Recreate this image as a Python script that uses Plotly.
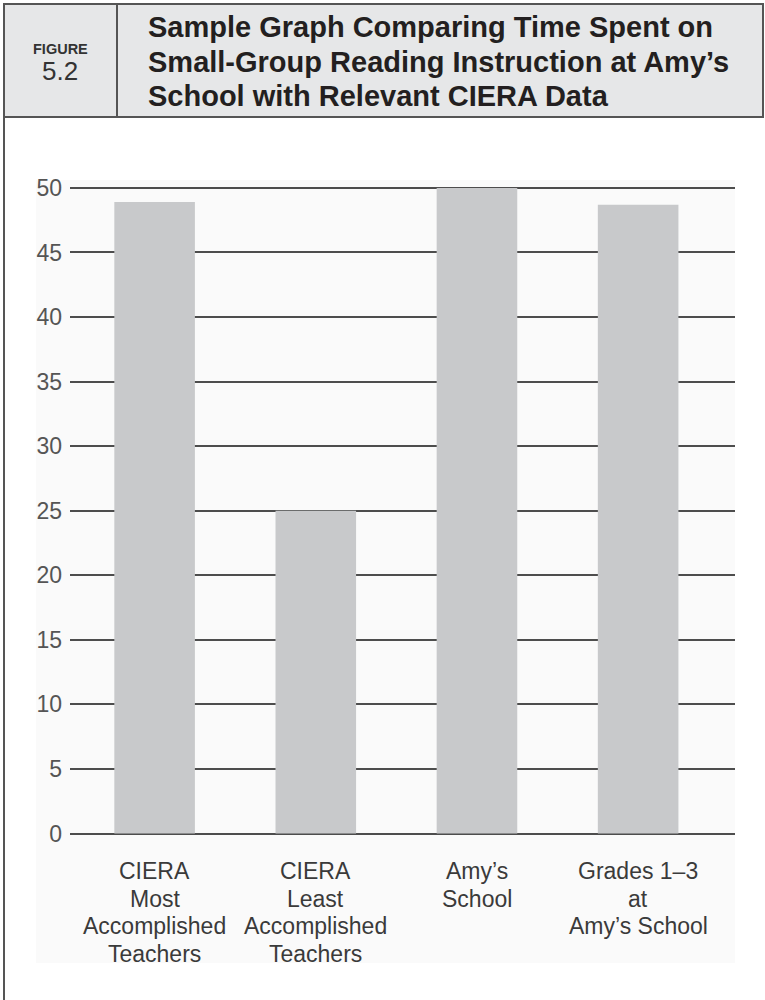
import plotly.graph_objects as go

categories = [
    "CIERA<br>Most<br>Accomplished<br>Teachers",
    "CIERA<br>Least<br>Accomplished<br>Teachers",
    "Amy’s<br>School",
    "Grades 1–3<br>at<br>Amy’s School",
]
minutes = [48.9, 25.0, 50.0, 48.7]
y_ticks = [0, 5, 10, 15, 20, 25, 30, 35, 40, 45, 50]
title_lines = [
    "Sample Graph Comparing Time Spent on",
    "Small-Group Reading Instruction at Amy’s",
    "School with Relevant CIERA Data",
]

W, H = 765, 1000
ML, MR, MT, MB = 70, 30, 175, 160
PW, PH = W - ML - MR, H - MT - MB


def px(x):
    return (x - ML) / PW


def py(y):
    return (H - MB - y) / PH


FONT = "Liberation Sans, Arial, sans-serif"

fig = go.Figure()
fig.add_trace(go.Bar(
    x=list(range(len(categories))),
    y=minutes,
    width=0.5,
    marker=dict(color="#c8c9cb", line=dict(width=0)),
    hoverinfo="skip",
))

fig.update_layout(
    width=W, height=H,
    margin=dict(l=ML, r=MR, t=MT, b=MB, pad=0),
    paper_bgcolor="white",
    plot_bgcolor="rgba(0,0,0,0)",
    showlegend=False,
    font=dict(family=FONT, color="#444"),
    xaxis=dict(
        range=[-0.525, 3.601],
        tickmode="array",
        tickvals=list(range(len(categories))),
        ticktext=categories,
        showticklabels=False,
        showgrid=False, zeroline=False, showline=False,
        ticks="",
        fixedrange=True,
    ),
    yaxis=dict(
        range=[-0.5, 51],
        tickmode="array",
        tickvals=y_ticks,
        showgrid=True, gridcolor="#4d4d4d", gridwidth=1.8,
        zeroline=False, showline=False,
        ticks="", ticklabelstandoff=7,
        tickfont=dict(size=23, color="#555", family=FONT),
        fixedrange=True,
    ),
    shapes=[
        # faint chart panel
        dict(type="rect", xref="paper", yref="paper", layer="below",
             x0=px(36), x1=px(735), y0=py(963), y1=py(180),
             fillcolor="#fafafa", line=dict(width=0)),
        # header box
        dict(type="rect", xref="paper", yref="paper", layer="below",
             x0=px(4), x1=px(763), y0=py(117), y1=py(4),
             fillcolor="#e6e7e8", line=dict(color="#555", width=2)),
        # header divider
        dict(type="line", xref="paper", yref="paper",
             x0=px(117), x1=px(117), y0=py(117), y1=py(4),
             line=dict(color="#555", width=2)),
        # left frame below header
        dict(type="line", xref="paper", yref="paper",
             x0=px(4), x1=px(4), y0=py(1000), y1=py(117),
             line=dict(color="#555", width=2)),
    ],
)

ann = [
    dict(text="<b>FIGURE</b>", x=px(60), y=py(49),
         font=dict(size=14.5, color="#333", family=FONT)),
    dict(text="5.2", x=px(60), y=py(71),
         font=dict(size=26, color="#333", family=FONT)),
]
for a in ann:
    a.update(xref="paper", yref="paper", xanchor="center", yanchor="middle", showarrow=False)

for i, line in enumerate(title_lines):
    ann.append(dict(text="<b>" + line + "</b>", x=px(146), y=py(27 + 34.5 * i),
                    xref="paper", yref="paper", xanchor="left", yanchor="middle",
                    showarrow=False, font=dict(size=29, color="#231f20", family=FONT)))

# category labels (tight leading, as in the printed figure)
for ci, label in enumerate(categories):
    for li, part in enumerate(label.split("<br>")):
        ann.append(dict(text=part, x=ci, y=py(871 + 27.5 * li),
                        xref="x", yref="paper", xanchor="center", yanchor="middle",
                        showarrow=False, font=dict(size=23, color="#3a3a3a", family=FONT)))

fig.update_layout(annotations=ann)

fig.write_html("out.html", config={"displayModeBar": False})
